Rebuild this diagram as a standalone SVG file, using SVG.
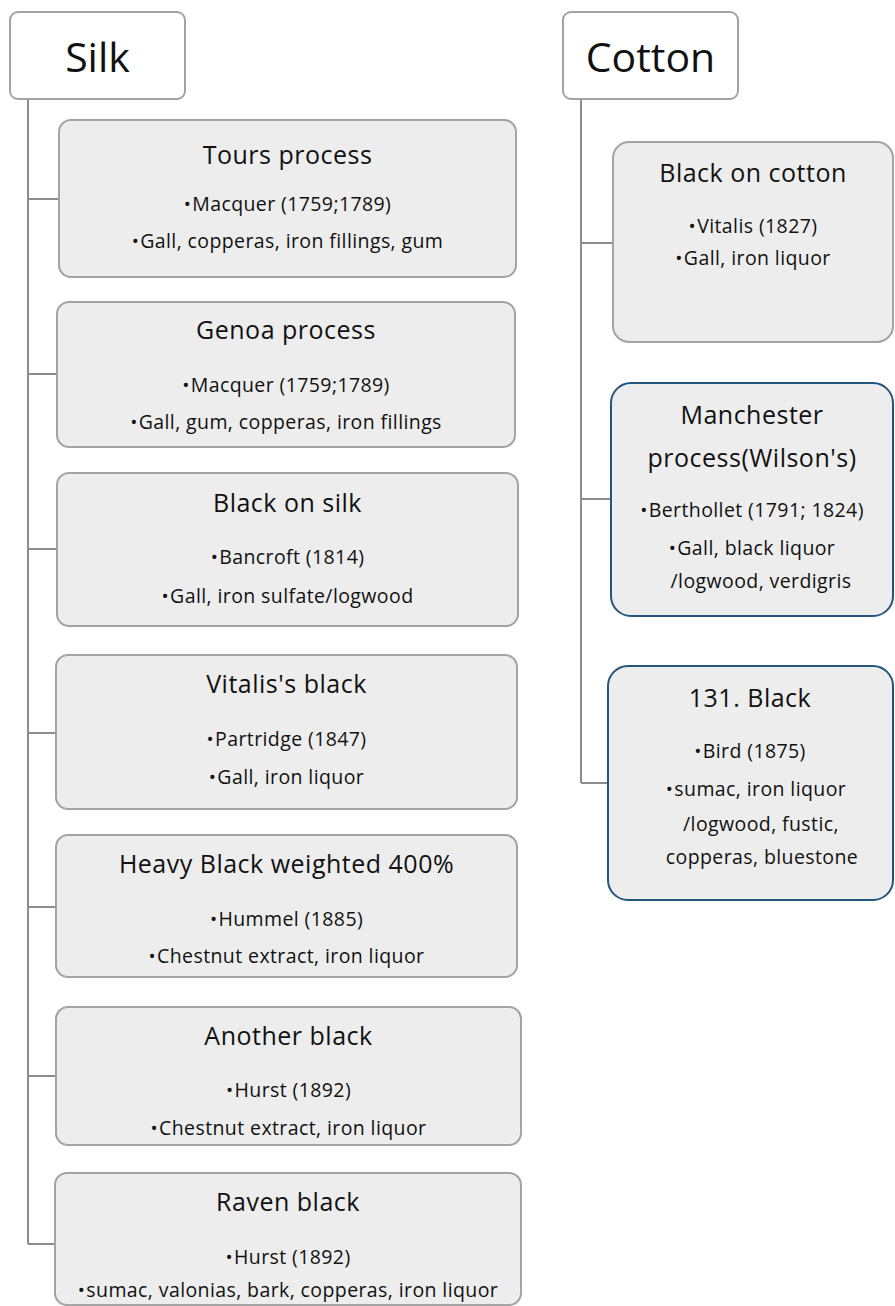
<svg xmlns="http://www.w3.org/2000/svg" width="895" height="1306" viewBox="0 0 895 1306">
<style>
text{font-family:"Open Sans","Noto Sans","Liberation Sans",sans-serif;fill:#111;text-anchor:middle}
.root{fill:#fff;stroke:#a3a3a3;stroke-width:2}
.box{fill:#ededed;stroke:#a3a3a3;stroke-width:2}
.bbox{fill:#ededed;stroke:#24557f;stroke-width:2}
.h{font-size:41px}
.t{font-size:25px;letter-spacing:0.5px}
.b{font-size:19.5px;letter-spacing:0.4px}
.con{stroke:#8c8c8c;stroke-width:2;fill:none}
.dot{font-size:19px}
</style>
<g id="connectors">
<path class="con" d="M28 99V1244M28 199H59M28 374H57M28 549H57M28 733H56M28 907H56M28 1076H56M28 1244H55"/>
<path class="con" d="M581 99V783M581 243H613M581 499H611M581 783H608"/>
</g>
<g id="silk"><rect class="root" x="10" y="12" width="175" height="87" rx="8"/><text class="h" x="97.5" y="72">Silk</text></g>
<g id="cotton"><rect class="root" x="563" y="12" width="175" height="87" rx="8"/><text class="h" x="650.5" y="72">Cotton</text></g>
<g id="tours"><rect class="box" x="59" y="120" width="457" height="157" rx="12"/>
<text class="t" x="287.5" y="164">Tours process</text>
<text class="b" x="287.5" y="211"><tspan class="dot">•</tspan><tspan dx="1">Macquer (1759;1789)</tspan></text>
<text class="b" x="287.5" y="248"><tspan class="dot">•</tspan><tspan dx="1">Gall, copperas, iron fillings, gum</tspan></text></g>
<g id="genoa"><rect class="box" x="57" y="302" width="458" height="145" rx="12"/>
<text class="t" x="286" y="339">Genoa process</text>
<text class="b" x="286" y="392"><tspan class="dot">•</tspan><tspan dx="1">Macquer (1759;1789)</tspan></text>
<text class="b" x="286" y="429"><tspan class="dot">•</tspan><tspan dx="1">Gall, gum, copperas, iron fillings</tspan></text></g>
<g id="blacksilk"><rect class="box" x="57" y="473" width="461" height="153" rx="12"/>
<text class="t" x="287.5" y="512">Black on silk</text>
<text class="b" x="287.5" y="564"><tspan class="dot">•</tspan><tspan dx="1">Bancroft (1814)</tspan></text>
<text class="b" x="287.5" y="603"><tspan class="dot">•</tspan><tspan dx="1">Gall, iron sulfate/logwood</tspan></text></g>
<g id="vitalis"><rect class="box" x="56" y="655" width="461" height="154" rx="12"/>
<text class="t" x="286.5" y="693">Vitalis's black</text>
<text class="b" x="286.5" y="746"><tspan class="dot">•</tspan><tspan dx="1">Partridge (1847)</tspan></text>
<text class="b" x="286.5" y="784"><tspan class="dot">•</tspan><tspan dx="1">Gall, iron liquor</tspan></text></g>
<g id="heavy"><rect class="box" x="56" y="835" width="461" height="142" rx="12"/>
<text class="t" x="286.5" y="873">Heavy Black weighted 400%</text>
<text class="b" x="286.5" y="926"><tspan class="dot">•</tspan><tspan dx="1">Hummel (1885)</tspan></text>
<text class="b" x="286.5" y="963"><tspan class="dot">•</tspan><tspan dx="1">Chestnut extract, iron liquor</tspan></text></g>
<g id="another"><rect class="box" x="56" y="1007" width="465" height="138" rx="12"/>
<text class="t" x="288.5" y="1045">Another black</text>
<text class="b" x="288.5" y="1097"><tspan class="dot">•</tspan><tspan dx="1">Hurst (1892)</tspan></text>
<text class="b" x="288.5" y="1135"><tspan class="dot">•</tspan><tspan dx="1">Chestnut extract, iron liquor</tspan></text></g>
<g id="raven"><rect class="box" x="55" y="1173" width="466" height="132" rx="12"/>
<text class="t" x="288" y="1211">Raven black</text>
<text class="b" x="288" y="1264"><tspan class="dot">•</tspan><tspan dx="1">Hurst (1892)</tspan></text>
<text class="b" x="288" y="1297"><tspan class="dot">•</tspan><tspan dx="1">sumac, valonias, bark, copperas, iron liquor</tspan></text></g>
<g id="blackcotton"><rect class="box" x="613" y="142" width="280" height="200" rx="16"/>
<text class="t" x="753" y="182">Black on cotton</text>
<text class="b" x="753" y="233"><tspan class="dot">•</tspan><tspan dx="1">Vitalis (1827)</tspan></text>
<text class="b" x="753" y="265"><tspan class="dot">•</tspan><tspan dx="1">Gall, iron liquor</tspan></text></g>
<g id="manchester"><rect class="bbox" x="611" y="383" width="282" height="233" rx="20"/>
<text class="t" x="752" y="424">Manchester</text>
<text class="t" x="752" y="467">process(Wilson's)</text>
<text class="b" x="752" y="517"><tspan class="dot">•</tspan><tspan dx="1">Berthollet (1791; 1824)</tspan></text>
<text class="b" x="752" y="555"><tspan class="dot">•</tspan><tspan dx="1">Gall, black liquor</tspan></text>
<text class="b" x="761" y="588">/logwood, verdigris</text></g>
<g id="black131"><rect class="bbox" x="608" y="666" width="285" height="234" rx="20"/>
<text class="t" x="750" y="707">131. Black</text>
<text class="b" x="750" y="758"><tspan class="dot">•</tspan><tspan dx="1">Bird (1875)</tspan></text>
<text class="b" x="756" y="796"><tspan class="dot">•</tspan><tspan dx="1">sumac, iron liquor</tspan></text>
<text class="b" x="761" y="831">/logwood, fustic,</text>
<text class="b" x="762" y="864">copperas, bluestone</text></g>
</svg>
